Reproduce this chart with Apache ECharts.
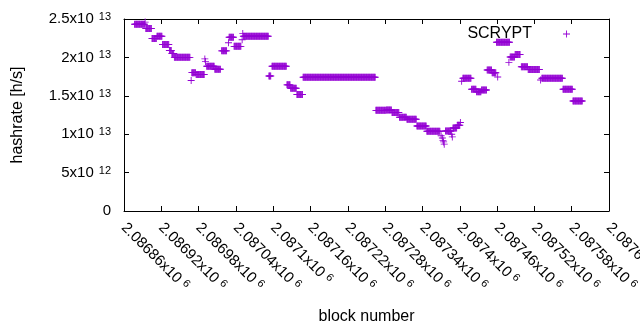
<!DOCTYPE html>
<html><head><meta charset="utf-8">
<script src="https://cdn.jsdelivr.net/npm/echarts@6/dist/echarts.min.js"></script>
<style>html,body{margin:0;padding:0;background:#fff}#c{width:640px;height:330px}</style>
</head><body><div id="c"></div>
<script>
const seriesName = 'SCRYPT';
const xTitle = 'block number';
const yTitle = 'hashrate [h/s]';
// runs of consecutive blocks sharing one hashrate value (value in units of 1e13 h/s)
const runStart = [2086877,2086894,2086895,2086905,2086913,2086922,2086933,2086937,2086941,2086968,2086969,2086976,2086990,2086991,2086993,2087006,2087017,2087028,2087029,2087037,2087050,2087051,2087052,2087093,2087098,2087122,2087128,2087138,2087148,2087265,2087282,2087291,2087303,2087315,2087331,2087347,2087370,2087372,2087373,2087374,2087375,2087377,2087387,2087388,2087389,2087396,2087401,2087403,2087405,2087419,2087427,2087435,2087444,2087452,2087459,2087461,2087479,2087481,2087489,2087499,2087510,2087530,2087532,2087566,2087582];
const runEnd = [2086893,2086894,2086904,2086912,2086921,2086932,2086936,2086940,2086966,2086968,2086975,2086989,2086990,2086991,2087005,2087015,2087025,2087028,2087036,2087048,2087050,2087051,2087092,2087096,2087121,2087127,2087137,2087147,2087264,2087281,2087290,2087302,2087314,2087330,2087346,2087368,2087370,2087372,2087373,2087374,2087375,2087386,2087387,2087388,2087395,2087400,2087401,2087403,2087418,2087426,2087434,2087443,2087451,2087458,2087480,2087461,2087479,2087488,2087497,2087509,2087528,2087530,2087565,2087581,2087597];
const runHashrate = [2.431,2.46,2.376,2.246,2.275,2.168,2.09,2.05,2.001,1.70,1.801,1.777,1.98,1.945,1.884,1.845,2.085,2.19,2.262,2.144,2.23,2.31,2.275,1.758,1.884,1.643,1.598,1.517,1.741,1.311,1.315,1.283,1.22,1.194,1.107,1.039,0.98,0.95,0.92,0.90,0.87,1.042,1.0,0.965,1.081,1.116,1.152,1.69,1.728,1.585,1.553,1.576,1.836,1.80,2.198,1.745,1.936,2.005,2.038,1.879,1.842,1.706,1.728,1.585,1.432];
const yTickMantissa = ['0','5x10','1x10','1.5x10','2x10','2.5x10'];
const yTickExponent = ['','12','13','13','13','13'];
const xMin = 2086860, xMax = 2087640, xStep = 60;
const yMin = 0, yMax = 2.5e13, yStep = 5e12;

const data = [];
for (let i = 0; i < runStart.length; i++) {
  for (let b = runStart[i]; b <= runEnd[i]; b++) data.push([b, runHashrate[i] * 1e13]);
}
const FONT = '"Liberation Sans", Arial, sans-serif';
const plus = 'path://M3.5,0H4.5V3.5H8V4.5H4.5V8H3.5V4.5H0V3.5H3.5Z';
const chart = echarts.init(document.getElementById('c'));
const axisCommon = {
  axisLine: {show: true, onZero: false, lineStyle: {color: '#000', width: 1}},
  axisTick: {show: true, inside: true, length: 5, lineStyle: {color: '#000'}},
  splitLine: {show: false}
};
chart.setOption({
  animation: false,
  grid: {left: 124, right: 31, top: 19, bottom: 119, containLabel: false, outerBoundsMode: 'none'},
  legend: {
    data: [{name: seriesName, icon: plus}], right: 65, top: 21, align: 'right',
    itemWidth: 7, itemHeight: 7, selectedMode: false,
    textStyle: {fontFamily: FONT, fontSize: 16, color: '#000', padding: [0, 26, 0, 0]}
  },
  xAxis: [Object.assign({
    type: 'value', min: xMin, max: xMax, interval: xStep, position: 'bottom',
    name: xTitle, nameLocation: 'middle', nameGap: 98,
    nameTextStyle: {fontFamily: FONT, fontSize: 16, color: '#000'},
    axisLabel: {
      rotate: -45, margin: 14, color: '#000', hideOverlap: false,
      formatter: v => '{m|' + parseFloat((v / 1e6).toFixed(5)) + 'x10}{e|6}',
      rich: {
        m: {fontFamily: FONT, fontSize: 15, color: '#000', lineHeight: 16, verticalAlign: 'bottom'},
        e: {fontFamily: FONT, fontSize: 11, color: '#000', lineHeight: 11, verticalAlign: 'top', padding: [0, 0, 0, 4]}
      }
    }
  }, axisCommon), Object.assign({
    type: 'value', min: xMin, max: xMax, interval: xStep, position: 'top',
    axisLabel: {show: false}
  }, axisCommon)],
  yAxis: [Object.assign({
    type: 'value', min: yMin, max: yMax, interval: yStep, position: 'left',
    name: yTitle, nameLocation: 'middle', nameGap: 98,
    nameTextStyle: {fontFamily: FONT, fontSize: 16, color: '#000'},
    axisLabel: {
      margin: 13, color: '#000',
      formatter: (v) => {
        const i = Math.round(v / yStep);
        return yTickExponent[i] ? '{m|' + yTickMantissa[i] + '}{e|' + yTickExponent[i] + '}' : '{m|' + yTickMantissa[i] + '}';
      },
      rich: {
        m: {fontFamily: FONT, fontSize: 15, color: '#000', lineHeight: 15, verticalAlign: 'bottom'},
        e: {fontFamily: FONT, fontSize: 11, color: '#000', lineHeight: 11, verticalAlign: 'top', padding: [0, 0, 0, 5]}
      }
    }
  }, axisCommon), Object.assign({
    type: 'value', min: yMin, max: yMax, interval: yStep, position: 'right',
    axisLabel: {show: false}
  }, axisCommon)],
  series: [{
    type: 'scatter', name: seriesName, data: data, symbol: plus, symbolSize: 7,
    itemStyle: {color: '#9400d3', opacity: 1}, emphasis: {disabled: true}
  }]
});
</script></body></html>
